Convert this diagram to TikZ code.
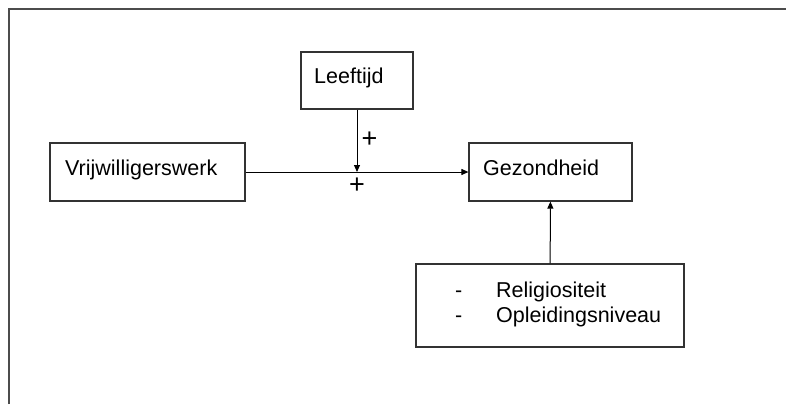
\documentclass[tikz,border=0pt]{standalone}
\usepackage{fontspec}
\setmainfont{Liberation Sans}
\usetikzlibrary{arrows.meta}
\tikzset{
    box/.style={draw=black!80, line width=1.2pt, rectangle, inner sep=0pt},
    txt/.style={anchor=base west, inner sep=0pt, font=\fontsize{21.5}{26}\selectfont},
    teken/.style={anchor=center, inner sep=0pt, font=\fontsize{27}{30}\selectfont},
    pijl/.style={line width=1pt, -{Triangle[length=7pt, width=6pt]}},
}
\begin{document}
\begin{tikzpicture}[x=1pt, y=-1pt]
        \useasboundingbox (0, 0) rectangle (786, 404);
        \draw[line width=2pt, black!70] (9, 404) -- (9, 9) -- (786, 9);
        \node[box, minimum width=112pt, minimum height=57pt] (leeftijd) at (357, 80.5) {};
        \node[box, minimum width=195pt, minimum height=58pt] (vrijwilligerswerk) at (147.5, 172) {};
        \node[box, minimum width=163pt, minimum height=58pt] (gezondheid) at (550.5, 172) {};
        \node[box, minimum width=268pt, minimum height=83pt] (controle) at (550, 305.5) {};
        \node[txt] (leeftijdtxt) at (314, 83) {Leeftijd};
        \node[txt] (vrijwilligerswerktxt) at (65, 175) {Vrijwilligerswerk};
        \node[txt] (gezondheidtxt) at (483, 175) {Gezondheid};
        \node[txt] (streep1) at (455, 297) {-};
        \node[txt] (religie) at (496, 297) {Religiositeit};
        \node[txt] (streep2) at (455, 322) {-};
        \node[txt] (opleiding) at (496, 322) {Opleidingsniveau};
        \node[coordinate] (interactie) at (leeftijd.south |- vrijwilligerswerk.east) {};
        \node[teken] (plus1) at (369.5, 140) {+};
        \node[teken] (plus2) at (357, 185.5) {+};
        \draw[pijl] (vrijwilligerswerk) -- (gezondheid);
        \draw[pijl] (leeftijd) -- (interactie);
        \draw[pijl] (controle) -- (gezondheid);
    \end{tikzpicture}
\end{document}
